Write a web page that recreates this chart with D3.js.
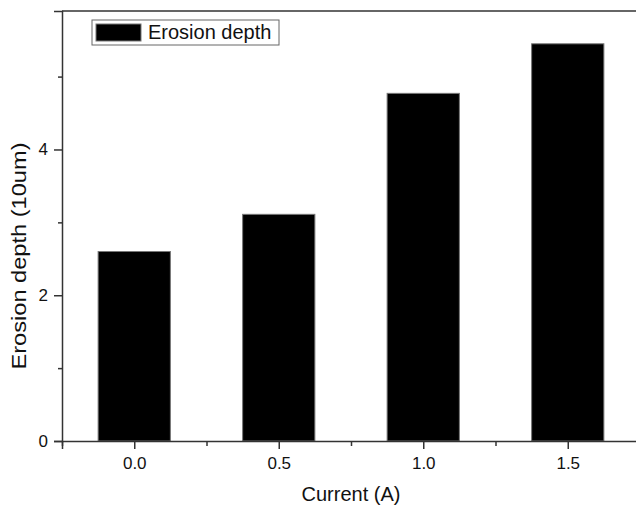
<!DOCTYPE html>
<html>
<head>
<meta charset="utf-8">
<script src="https://cdn.jsdelivr.net/npm/d3@7"></script>
<style>
  body { margin: 0; background: #fff; }
  svg { display: block; font-family: Arial, "Liberation Sans", sans-serif; }
</style>
</head>
<body>
<svg id="chart"></svg>
<script>
const currents = [0.0, 0.5, 1.0, 1.5];
const depths = [2.60, 3.11, 4.77, 5.45];
const xTicks = [0, 0.5, 1.0, 1.5];
const xMinorTicks = [-0.25, 0.25, 0.75, 1.25, 1.75];
const yTicks = [0, 2, 4];
const yMinorTicks = [1, 3, 5];

const W = 636, H = 505;
const plotLeft = 62, plotTop = 11, plotBottom = 441;
const plotRight = 640; // plot frame runs past the cropped edge

const svg = d3.select('#chart')
  .attr('width', W)
  .attr('height', H);

const x = d3.scaleLinear().domain([-0.25, 1.75]).range([plotLeft, plotRight]);
const y = d3.scaleLinear().domain([0, 5.9]).range([plotBottom, plotTop]);
const barW = x(0.25) - x(0);

// bars
svg.selectAll('rect.bar')
  .data(currents)
  .enter()
  .append('rect')
  .attr('class', 'bar')
  .attr('x', (d) => x(d) - barW / 2)
  .attr('y', (d, i) => y(depths[i]))
  .attr('width', barW)
  .attr('height', (d, i) => y(0) - y(depths[i]))
  .attr('fill', '#000')
  .attr('stroke', '#777')
  .attr('stroke-width', 1);

// top frame line
svg.append('line')
  .attr('x1', plotLeft).attr('x2', plotRight)
  .attr('y1', plotTop).attr('y2', plotTop)
  .attr('stroke', '#333').attr('stroke-width', 1.5);

// x axis
svg.append('g')
  .attr('transform', `translate(0,${plotBottom})`)
  .call(d3.axisBottom(x).tickValues(xTicks).tickSize(8).tickPadding(8).tickFormat(d3.format('.1f')));
svg.append('g')
  .attr('transform', `translate(0,${plotBottom})`)
  .call(d3.axisBottom(x).tickValues(xMinorTicks).tickSize(5).tickFormat(''))
  .call((g) => g.select('.domain').remove());

// y axis
svg.append('g')
  .attr('transform', `translate(${plotLeft},0)`)
  .call(d3.axisLeft(y).tickValues(yTicks).tickSize(8).tickPadding(6).tickFormat(d3.format('d')));
svg.append('g')
  .attr('transform', `translate(${plotLeft},0)`)
  .call(d3.axisLeft(y).tickValues(yMinorTicks).tickSize(4).tickFormat(''))
  .call((g) => g.select('.domain').remove());

svg.selectAll('.domain').attr('stroke', '#333').attr('stroke-width', 1.5);
svg.selectAll('.tick line').attr('stroke', '#333').attr('stroke-width', 1.5);
svg.selectAll('.tick text')
  .attr('font-size', 17)
  .attr('font-family', 'Arial, "Liberation Sans", sans-serif')
  .attr('fill', '#111');

// axis titles
svg.append('text')
  .attr('x', 351)
  .attr('y', 501)
  .attr('text-anchor', 'middle')
  .attr('font-size', 20)
  .attr('fill', '#111')
  .text('Current (A)');

svg.append('text')
  .attr('transform', 'translate(26,256) rotate(-90)')
  .attr('text-anchor', 'middle')
  .attr('font-size', 20)
  .attr('textLength', 227)
  .attr('lengthAdjust', 'spacingAndGlyphs')
  .attr('fill', '#111')
  .text('Erosion depth (10um)');

// legend
const legend = svg.append('g').attr('transform', 'translate(92,20)');
legend.append('rect')
  .attr('width', 187).attr('height', 25)
  .attr('fill', '#fff')
  .attr('stroke', '#666').attr('stroke-width', 1);
legend.append('rect')
  .attr('x', 4).attr('y', 4)
  .attr('width', 45).attr('height', 17)
  .attr('fill', '#000').attr('stroke', '#777');
legend.append('text')
  .attr('x', 56).attr('y', 19)
  .attr('font-size', 20)
  .attr('fill', '#111')
  .text('Erosion depth');
</script>
</body>
</html>
